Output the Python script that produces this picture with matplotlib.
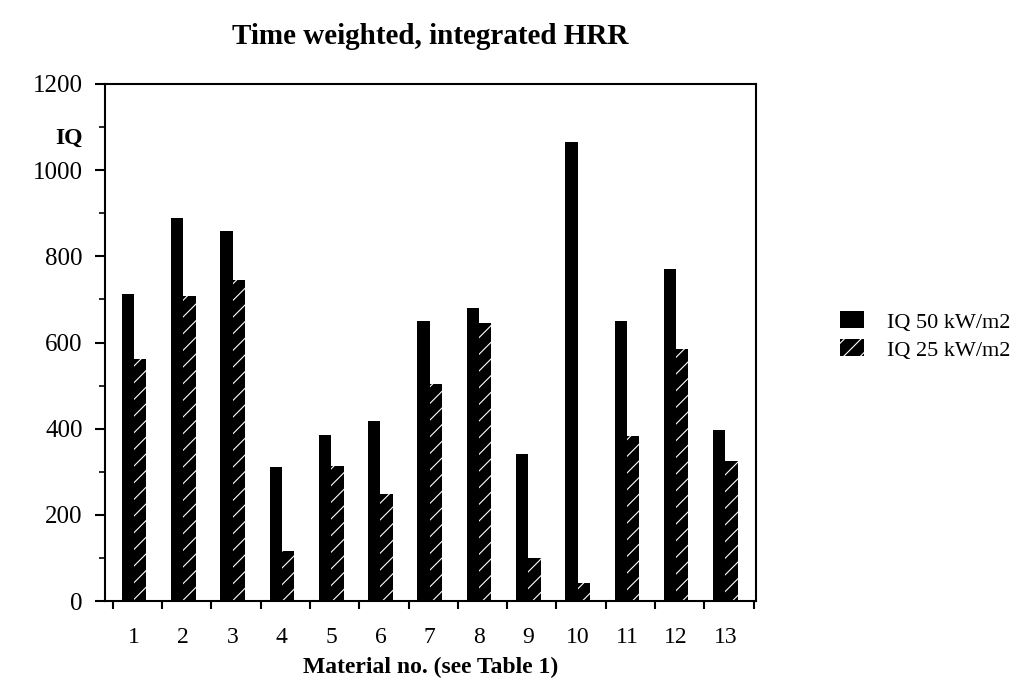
import matplotlib.pyplot as plt
import numpy as np

# values
materials = ['1', '2', '3', '4', '5', '6', '7', '8', '9', '10', '11', '12', '13']
iq50 = [712, 888, 859, 312, 386, 418, 650, 680, 342, 1066, 650, 770, 398]
iq25 = [562, 708, 746, 116, 314, 248, 504, 645, 100, 42, 382, 584, 324]

plt.rcParams['font.family'] = ['Liberation Serif', 'DejaVu Serif']
plt.rcParams['hatch.linewidth'] = 0.8

fig = plt.figure(figsize=(10.33, 6.87), dpi=100)
ax = fig.add_axes([105 / 1033, 1 - 601 / 687, 651 / 1033, 517 / 687])

x = np.arange(1, len(materials) + 1)
w = 0.25
ax.bar(x - w / 2, iq50, w, color='black', linewidth=0, label='IQ 50 kW/m2')
ax.bar(x + w / 2, iq25, w, facecolor='black', edgecolor='white', hatch='//',
       linewidth=0, label='IQ 25 kW/m2')

ax.set_xlim(0.41, 13.62)
ax.set_ylim(0, 1200)

# group labels under the bars, tick marks between groups
ax.set_xticks(x)
ax.set_xticklabels(materials, fontsize=17)
ax.tick_params(axis='x', which='major', length=0, pad=19)
ax.set_xticks(np.arange(0.57, 13.6, 1.0), minor=True)
ax.tick_params(axis='x', which='minor', length=6, width=1.5, direction='out')

ax.set_yticks(np.arange(0, 1201, 200))
ax.set_yticks(np.arange(100, 1200, 200), minor=True)
ax.tick_params(axis='y', which='major', length=7, width=1.5, labelsize=18, pad=9)
ax.tick_params(axis='y', which='minor', length=4, width=1.2)

for s in ax.spines.values():
    s.set_linewidth(1.5)

ax.set_xlabel('Material no. (see Table 1)', fontsize=17, fontweight='bold', labelpad=6)
fig.text(83 / 1033, 1 - 138 / 687, 'IQ', fontsize=17, fontweight='bold', ha='right', va='center')
fig.suptitle('Time weighted, integrated HRR', x=430 / 1033, y=1 - 36 / 687,
             fontsize=21, fontweight='bold', va='center')

fig.legend(loc='center left', bbox_to_anchor=(820 / 1033, 1 - 336 / 687), frameon=False,
           fontsize=16, handlelength=1.1, handleheight=0.8, handletextpad=1.0,
           labelspacing=0.3)

plt.savefig('out.png', dpi=100)
